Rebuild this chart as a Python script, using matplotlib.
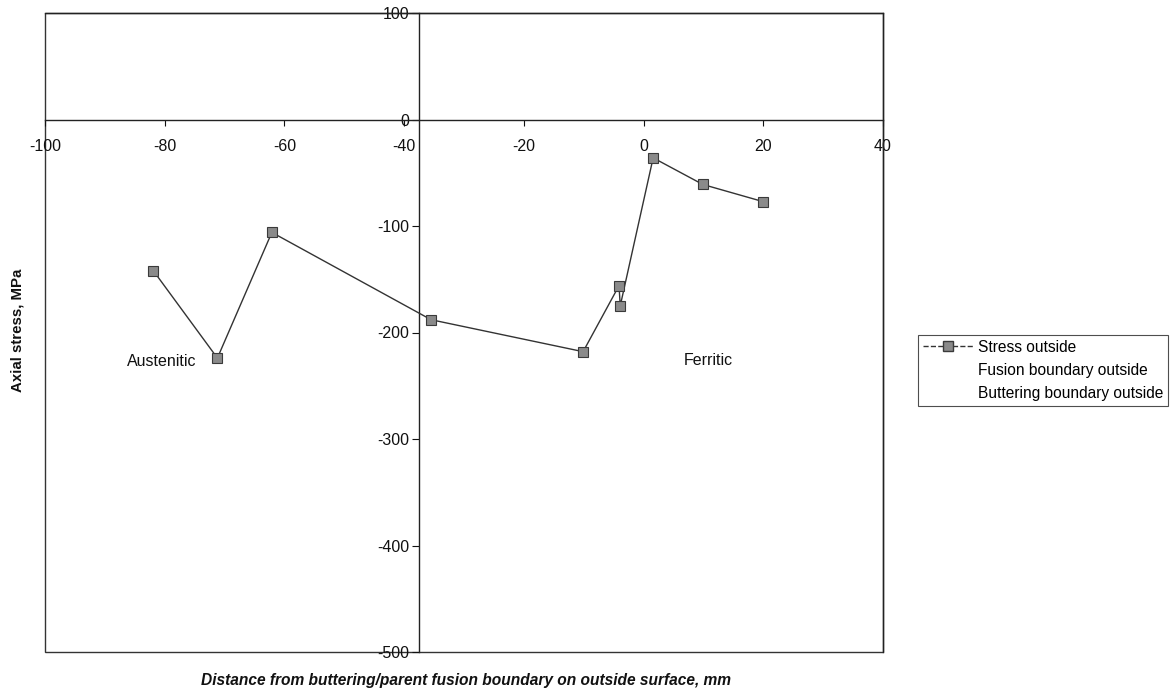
import matplotlib
matplotlib.use("Agg")
import matplotlib.pyplot as plt
from matplotlib.lines import Line2D
from matplotlib.patches import Rectangle

plt.rcParams['font.family'] = ['Liberation Sans', 'DejaVu Sans']

# Data
distance_mm = [-81.9, -71.2, -62.1, -35.5, -10.1, -4.1, -3.9, 1.6, 9.9, 19.9]
axial_stress = [-142, -224, -106, -188, -218, -156, -175, -36, -61, -77]
x_ticks = [-100, -80, -60, -40, -20, 0, 20, 40]
y_ticks = [100, 0, -100, -200, -300, -400, -500]
series_names = ["Stress outside", "Fusion boundary outside", "Buttering boundary outside"]
region_labels = ["Austenitic", "Ferritic"]
region_pos = [(-80.5, -227), (10.8, -226)]

W, H = 1176, 694
fig = plt.figure(figsize=(W / 100, H / 100), dpi=100)
L, R, T, B = 45, 883, 13, 652
ax = fig.add_axes([L / W, 1 - B / H, (R - L) / W, (B - T) / H])

ax.set_xlim(-100, 40)
ax.set_ylim(-500, 100)

# axes crossing positions as in reference
ax.spines['left'].set_position(('data', -37.5))
ax.spines['bottom'].set_position(('data', 0))
for s in ['left', 'bottom', 'top', 'right']:
    ax.spines[s].set_color('#222222')
    ax.spines[s].set_linewidth(1.0)

# outer frame (bottom and left edges)
ax.add_patch(Rectangle((0, 0), 1, 1, transform=ax.transAxes, fill=False,
                       edgecolor='#333333', linewidth=1.0, zorder=0,
                       clip_on=False))

ax.set_xticks(x_ticks)
ax.set_xticklabels([str(v) for v in x_ticks])
ax.set_yticks(y_ticks)
ax.set_yticklabels([str(v) for v in y_ticks])
ax.tick_params(axis='x', direction='out', length=4, width=0.8, labelsize=11.5, pad=10, colors='#111111')
ax.tick_params(axis='y', direction='out', length=5, width=0.8, labelsize=11.5, pad=2, colors='#111111')

line, = ax.plot(distance_mm, axial_stress, color='#333333', linewidth=1.0,
                marker='s', markersize=7, markerfacecolor='#8a8a8a',
                markeredgecolor='#3a3a3a', markeredgewidth=0.8, zorder=3)

for lab, (px, py) in zip(region_labels, region_pos):
    ax.text(px, py, lab, ha='center', va='center', fontsize=11.5, color='#111111')

handles = [
    Line2D([], [], color='#333333', linewidth=1.0, linestyle='--', marker='s',
           markersize=7, markerfacecolor='#8a8a8a', markeredgecolor='#3a3a3a'),
    Line2D([], [], color='none'),
    Line2D([], [], color='none'),
]
leg = fig.legend(handles, series_names, loc='upper left',
                 bbox_to_anchor=(918 / W, 1 - 335 / H), fontsize=11.2,
                 frameon=True, fancybox=False, edgecolor='#222222',
                 borderpad=0.3, labelspacing=0.52, handlelength=3.3,
                 handletextpad=0.25, borderaxespad=0)
leg.get_frame().set_linewidth(0.8)

fig.text(18 / W, 1 - 330 / H, "Axial stress, MPa", rotation=90, ha='center',
         va='center', fontsize=10.8, fontweight='bold', color='#111111')
fig.text(466 / W, 1 - 680 / H,
         "Distance from buttering/parent fusion boundary on outside surface, mm",
         ha='center', va='center', fontsize=11.2, fontweight='bold',
         fontstyle='italic', color='#111111')

fig.savefig("out.png", dpi=100, facecolor='white')
